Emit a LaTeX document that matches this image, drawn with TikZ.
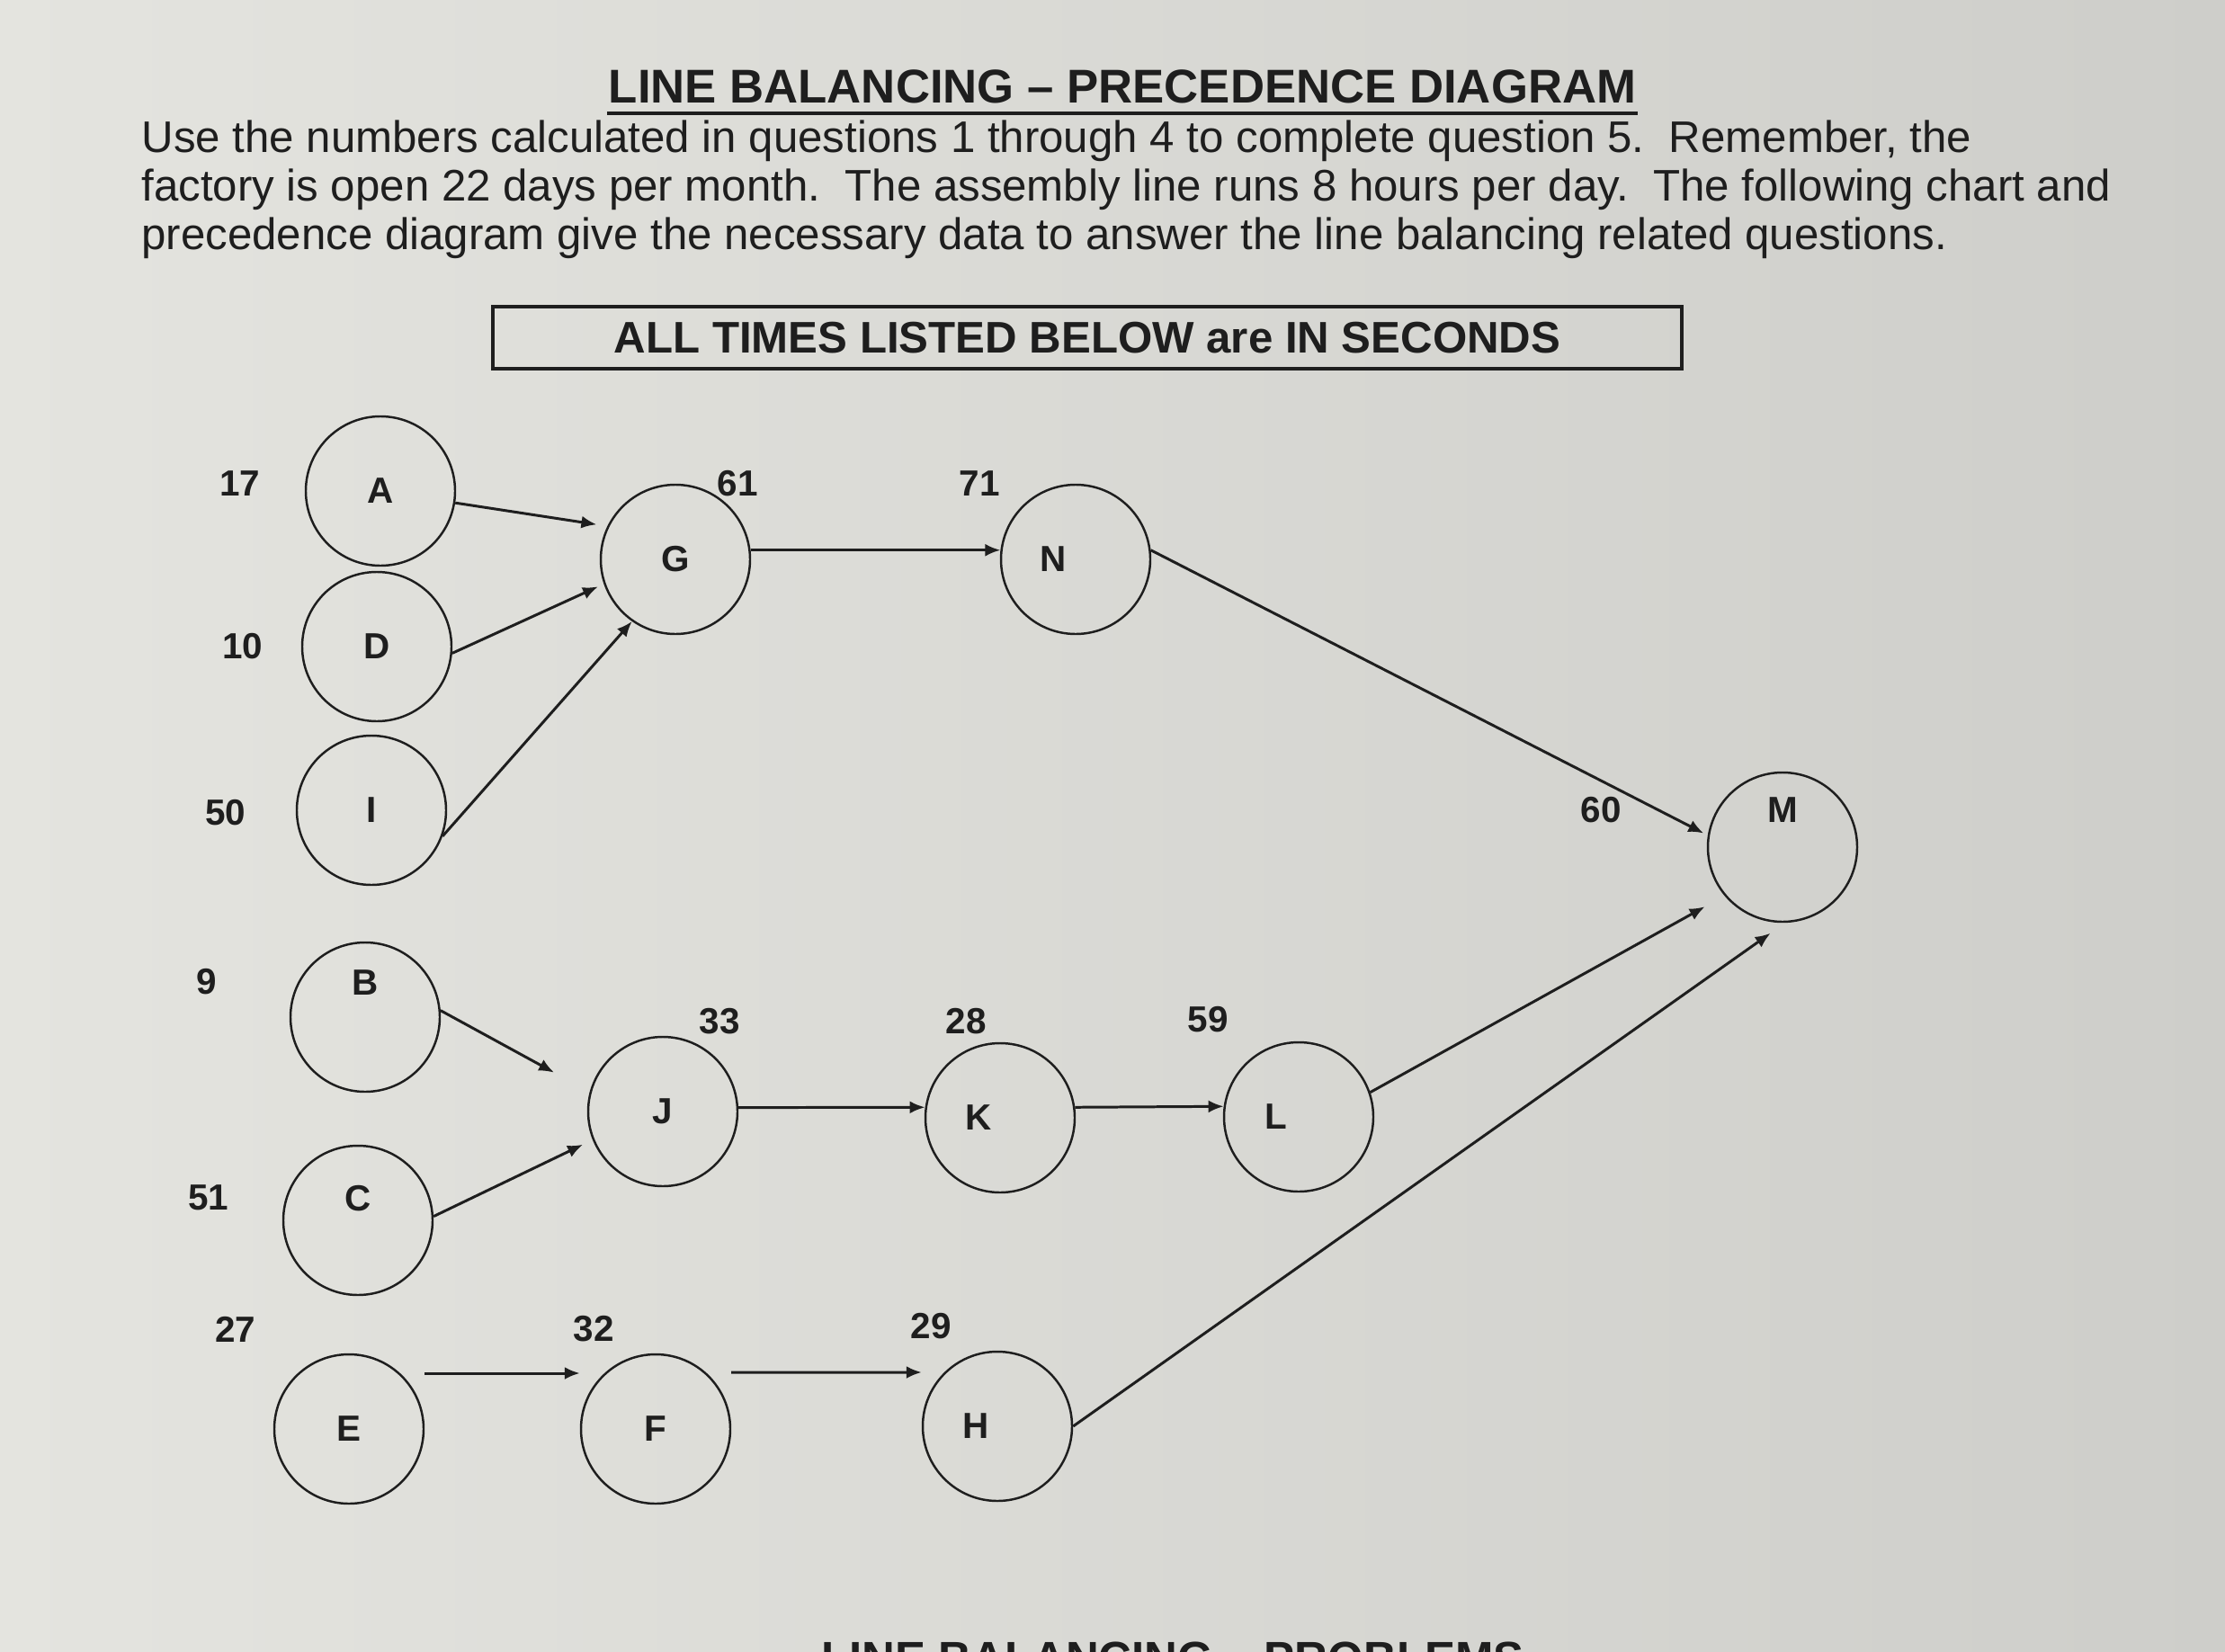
\documentclass[tikz,border=0pt]{standalone}
\usepackage{fontspec}
\setmainfont{Liberation Sans}
\usepackage{xcolor}
\usetikzlibrary{arrows.meta}
\definecolor{screen}{RGB}{228,228,223}
\definecolor{screendark}{RGB}{206,206,202}
\definecolor{ink}{RGB}{30,30,30}

\begin{document}
\begin{tikzpicture}[line width=0.85pt,draw=ink,>={Latex[length=1.7mm,width=1.4mm]},
  op/.style={circle,draw=ink,line width=0.7pt,minimum size=1.66cm,inner sep=0pt,text=ink,font=\fontsize{11.5}{13}\selectfont\bfseries},
  secs/.style={inner sep=0pt,text=ink,font=\fontsize{11.5}{13}\selectfont\bfseries}]
\useasboundingbox (0,0) rectangle (24.74,-18.36);
\clip (0,0) rectangle (24.74,-18.36);
\shade[left color=screen,right color=screendark] (0,0) rectangle (24.74,-18.36);

\node (title)[anchor=base,inner sep=0pt,text=ink,font=\fontsize{15}{18}\selectfont\bfseries] at (12.48,-1.15) {LINE BALANCING -- PRECEDENCE DIAGRAM};
\draw[line width=1.1pt] ([yshift=-1.1mm]title.base west) -- ([yshift=-1.1mm]title.base east);
\node (intro)[anchor=base west,align=left,inner sep=0pt,text=ink,font=\fontsize{14}{15.3}\selectfont] at (1.56,-2.77)
  {Use the numbers calculated in questions 1 through 4 to complete question 5.\ \ Remember, the\\
   factory is open 22 days per month.\ \ The assembly line runs 8 hours per day.\ \ The following chart and\\
   precedence diagram give the necessary data to answer the line balancing related questions.};
\node (unit)[rectangle,draw=ink,line width=0.9pt,minimum width=13.22cm,minimum height=0.69cm,inner sep=0pt,text=ink,font=\fontsize{14}{16}\selectfont\bfseries] at (12.09,-3.755) {ALL TIMES LISTED BELOW are IN SECONDS};

\node (A)[op] at (4.23,-5.46) {A};
\node (D)[op] at (4.19,-7.19) {D};
\node (I)[op] at (4.13,-9.01) {I};
\node (G)[op] at (7.51,-6.22) {G};
\node (N)[op,label={[secs,xshift=-2.5mm]center:N}] at (11.96,-6.22) {};
\node (M)[op,label={[secs,yshift=4.1mm]center:M}] at (19.82,-9.42) {};

\node (B)[op,label={[secs,yshift=3.8mm]center:B}] at (4.06,-11.31) {};
\node (C)[op,label={[secs,yshift=2.4mm]center:C}] at (3.98,-13.57) {};
\node (J)[op] at (7.37,-12.36) {J};
\node (K)[op,label={[secs,xshift=-2.4mm]center:K}] at (11.12,-12.43) {};
\node (L)[op,label={[secs,xshift=-2.5mm]center:L}] at (14.44,-12.42) {};

\node (E)[op] at (3.88,-15.89) {E};
\node (F)[op] at (7.29,-15.89) {F};
\node (H)[op,label={[secs,xshift=-2.4mm]center:H}] at (11.09,-15.86) {};

\node (tA)[secs] at (2.67,-5.38) {17};
\node (tD)[secs] at (2.70,-7.19) {10};
\node (tI)[secs] at (2.51,-9.04) {50};
\node (tB)[secs] at (2.30,-10.92) {9};
\node (tC)[secs] at (2.32,-13.32) {51};
\node (tE)[secs] at (2.62,-14.78) {27};
\node (tG)[secs] at (8.20,-5.38) {61};
\node (tN)[secs] at (10.89,-5.38) {71};
\node (tM)[secs] at (17.80,-9.01) {60};
\node (tJ)[secs] at (8.00,-11.36) {33};
\node (tK)[secs] at (10.74,-11.36) {28};
\node (tL)[secs] at (13.43,-11.34) {59};
\node (tF)[secs] at (6.60,-14.78) {32};
\node (tH)[secs] at (10.35,-14.75) {29};

\draw[->,shorten >=1.2mm] (A.-9) -- (G.154);
\draw[->,shorten >=0.7mm] (D.-5) -- (G.199);
\draw[->] (I.-20) -- (G.235);
\draw[->] (G.7) -- (N.173);
\draw[->,shorten >=0.5mm] (N.7) -- (M.171);

\draw[->,shorten >=4.5mm] (B.5) -- (J.165);
\draw[->,shorten >=1.2mm] (C.3) -- (J.202);
\draw[->] (J.3) -- (K.172);
\draw[->] (K.8) -- (L.172);
\draw[->,shorten >=2.5mm] (L.19) -- (M.220);

\draw[->] ([yshift=6.2mm]E.east) -- ([yshift=6.2mm]F.west);
\draw[->] ([yshift=6.3mm]F.east) -- ([yshift=6mm]H.west);
\draw[->,shorten >=2mm] (H.0) -- (M.272);

\node (next)[anchor=north,inner sep=0pt,text=ink,font=\fontsize{14.5}{16}\selectfont\bfseries] at (13.04,-18.24) {LINE BALANCING -- PROBLEMS};
\end{tikzpicture}
\end{document}
